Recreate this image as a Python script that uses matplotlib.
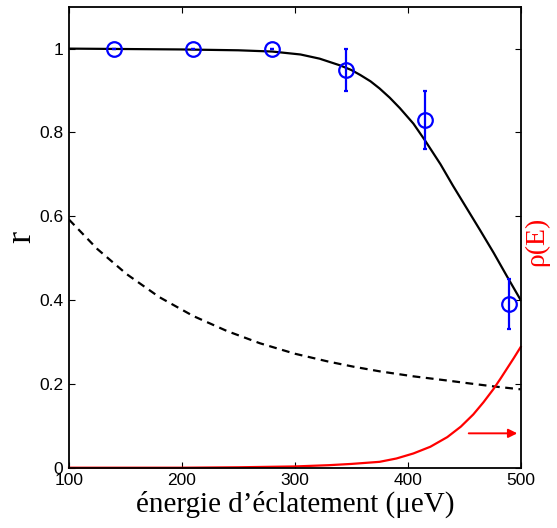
import matplotlib
matplotlib.use("Agg")
import matplotlib.pyplot as plt

# measured points (r vs splitting energy)
pts_x = [140, 210, 280, 345, 415, 490]
pts_r = [1.0, 1.0, 1.0, 0.95, 0.83, 0.39]
pts_err = [0, 0, 0, 0.05, 0.07, 0.06]

# fitted curve (solid black)
fit_x = [100, 150, 200, 250, 280, 305, 322, 340, 350, 358, 367, 375, 384, 393,
         405, 415, 429, 440, 452, 464, 476, 488, 500]
fit_r = [1.000, 0.999, 0.998, 0.996, 0.993, 0.986, 0.976, 0.960, 0.949, 0.937,
         0.922, 0.905, 0.883, 0.858, 0.821, 0.782, 0.724, 0.673, 0.620, 0.567,
         0.513, 0.456, 0.400]

# dashed curve
dash_x = [100, 125, 151, 180, 210, 240, 269, 300, 330, 352, 375, 405, 435,
          455, 476, 500]
dash_r = [0.592, 0.522, 0.462, 0.407, 0.362, 0.326, 0.297, 0.272, 0.253, 0.241,
          0.230, 0.218, 0.208, 0.201, 0.194, 0.187]

# rho(E), red
rho_x = [100, 200, 250, 300, 330, 350, 375, 390, 405, 420, 435, 447, 458,
         467, 476, 482, 488, 494, 500]
rho_y = [0, 0, 0.001, 0.003, 0.006, 0.009, 0.014, 0.022, 0.034, 0.050, 0.073,
         0.098, 0.127, 0.156, 0.188, 0.212, 0.237, 0.262, 0.288]

x_ticks = [100, 200, 300, 400, 500]
y_ticks = [0, 0.2, 0.4, 0.6, 0.8, 1]
y_ticklabels = ['0', '0.2', '0.4', '0.6', '0.8', '1']

arrow_start = (454, 0.082)
arrow_end = (497, 0.082)

fig = plt.figure(figsize=(5.57, 5.28), dpi=100)
ax = fig.add_axes([0.1239, 0.1142, 0.8109, 0.8731])

ax.plot(dash_x, dash_r, color='black', linestyle=(0, (3.5, 2.5)), linewidth=1.6)
ax.plot(rho_x, rho_y, color='red', linewidth=1.6, clip_on=False)
ax.plot(fit_x, fit_r, color='black', linewidth=1.6)
ax.errorbar(pts_x, pts_r, yerr=pts_err, fmt='o', color='blue', mfc='none',
            mec='blue', ms=10.5, mew=1.6, elinewidth=1.6, capsize=1.2,
            capthick=2.5)

ax.annotate('', xy=arrow_end, xytext=arrow_start,
            arrowprops=dict(arrowstyle='-|>', color='red', lw=1.4,
                            mutation_scale=13, shrinkA=0, shrinkB=0))

ax.set_xlim(100, 500)
ax.set_ylim(0, 1.1)
ax.set_xticks(x_ticks)
ax.set_yticks(y_ticks)
ax.set_yticklabels(y_ticklabels)
ax.tick_params(direction='in', top=True, right=True, length=4, width=0.8,
               labelsize=12.5, pad=4)
for lbl in ax.get_xticklabels() + ax.get_yticklabels():
    lbl.set_fontfamily('Liberation Sans')
for s in ax.spines.values():
    s.set_linewidth(1.3)

ax.set_xlabel('énergie d’éclatement (μeV)', fontfamily='Liberation Serif',
              fontsize=21, labelpad=2)
ax.set_ylabel('r', fontfamily='Liberation Serif', fontsize=26, labelpad=1)
fig.text(0.963, 0.542, 'ρ(E)', color='red', rotation=90,
         fontfamily='Liberation Serif', fontsize=20, ha='center', va='center')

fig.savefig('out.png', dpi=100)
